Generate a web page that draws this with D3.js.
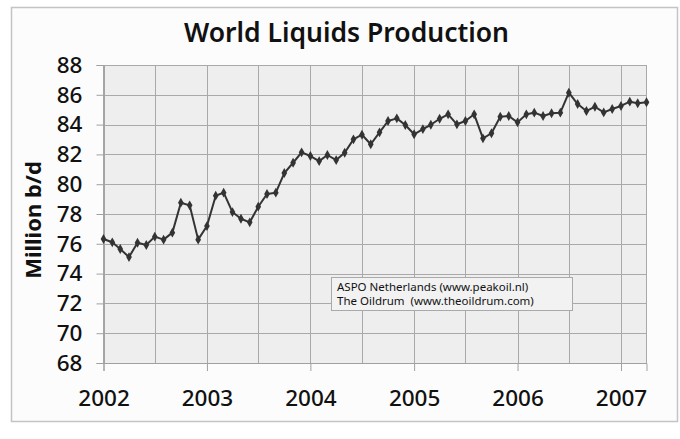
<!DOCTYPE html>
<html>
<head>
<meta charset="utf-8">
<script src="https://cdn.jsdelivr.net/npm/d3@7"></script>
<style>
  html, body { margin: 0; padding: 0; background: #ffffff; }
  svg { display: block; }
</style>
</head>
<body>
<svg id="chart" width="680" height="439"></svg>
<script>
// ---- data (million barrels per day, monthly) ----
const startDate = "2002-01-01";
const v2002 = [76.32, 76.10, 75.65, 75.11, 76.07, 75.92, 76.48, 76.28, 76.75, 78.76, 78.58, 76.28];
const v2003 = [77.19, 79.23, 79.43, 78.13, 77.68, 77.44, 78.49, 79.34, 79.43, 80.75, 81.44, 82.14];
const v2004 = [81.89, 81.55, 81.96, 81.62, 82.11, 83.01, 83.32, 82.68, 83.48, 84.24, 84.42, 83.97];
const v2005 = [83.35, 83.70, 83.99, 84.39, 84.69, 84.02, 84.24, 84.69, 83.08, 83.42, 84.53, 84.58];
const v2006 = [84.15, 84.69, 84.80, 84.58, 84.76, 84.80, 86.14, 85.38, 84.91, 85.20, 84.82, 85.05];
const v2007 = [85.25, 85.54, 85.43, 85.50];
const yearLabels = ["2002", "2003", "2004", "2005", "2006", "2007"];
const yTicks = [68, 70, 72, 74, 76, 78, 80, 82, 84, 86, 88];
const titleText = "World Liquids Production";
const yTitle = "Million b/d";
const sourceLines = ["ASPO Netherlands (www.peakoil.nl)", "The Oildrum  (www.theoildrum.com)"];

const values = [].concat(v2002, v2003, v2004, v2005, v2006, v2007);
const parse = d3.timeParse("%Y-%m-%d");
const t0 = parse(startDate);
const data = values.map((v, i) => ({ date: d3.timeMonth.offset(t0, i), value: v }));

// ---- layout ----
const plot = { left: 103.5, right: 646.5, top: 65, bottom: 363 };
const svg = d3.select("#chart");
const font = "'Noto Sans', 'Open Sans', sans-serif";

// outer frame
svg.append("rect")
  .attr("x", 11.5).attr("y", 7.5).attr("width", 666).attr("height", 414)
  .attr("fill", "#fcfcfc").attr("stroke", "#c4c4c4").attr("stroke-width", 1.5);

const x = d3.scaleTime()
  .domain([t0, data[data.length - 1].date])
  .range([plot.left, plot.right]);
const y = d3.scaleLinear()
  .domain([d3.min(yTicks), d3.max(yTicks)])
  .range([plot.bottom, plot.top]);

// plot background
svg.append("rect")
  .attr("x", plot.left).attr("y", plot.top)
  .attr("width", plot.right - plot.left).attr("height", plot.bottom - plot.top)
  .attr("fill", "#eeeeee");

// gridlines
const halfYears = d3.timeMonth.every(6).range(t0, d3.timeDay.offset(x.domain()[1], 1));
svg.append("g").selectAll("line").data(halfYears).join("line")
  .attr("x1", d => Math.round(x(d)) + 0.5).attr("x2", d => Math.round(x(d)) + 0.5)
  .attr("y1", plot.top).attr("y2", plot.bottom)
  .attr("stroke", "#a9a9a9").attr("stroke-width", 1);
svg.append("g").selectAll("line").data(yTicks).join("line")
  .attr("x1", plot.left).attr("x2", plot.right)
  .attr("y1", d => Math.round(y(d)) + 0.5).attr("y2", d => Math.round(y(d)) + 0.5)
  .attr("stroke", "#a9a9a9").attr("stroke-width", 1);

// plot border
svg.append("rect")
  .attr("x", plot.left).attr("y", plot.top + 0.5)
  .attr("width", plot.right - plot.left).attr("height", plot.bottom - plot.top)
  .attr("fill", "none").attr("stroke", "#a9a9a9").attr("stroke-width", 1);

// axes
const yearDates = yearLabels.map(s => parse(s + "-01-01"));
const xAxis = d3.axisBottom(x).tickValues(yearDates)
  .tickFormat((d, i) => yearLabels[i]).tickSize(8).tickPadding(19);
const gx = svg.append("g").attr("transform", `translate(0,${plot.bottom})`).call(xAxis);
gx.select(".domain").attr("stroke", "#a0a0a0");
gx.selectAll(".tick line").attr("stroke", "#a0a0a0");
gx.selectAll(".tick text").attr("font-family", font).attr("font-size", 22.5)
  .attr("font-weight", 500).attr("fill", "#111");

const yAxis = d3.axisLeft(y).tickValues(yTicks).tickSize(7).tickPadding(14);
const gy = svg.append("g").attr("transform", `translate(${plot.left},0)`).call(yAxis);
gy.select(".domain").attr("stroke", "#a0a0a0");
gy.selectAll(".tick line").attr("stroke", "#a0a0a0");
gy.selectAll(".tick text").attr("font-family", font).attr("font-size", 22.5)
  .attr("font-weight", 500).attr("fill", "#111");

// line
svg.append("path").datum(data)
  .attr("d", d3.line().x(d => x(d.date)).y(d => y(d.value)))
  .attr("fill", "none").attr("stroke", "#333333").attr("stroke-width", 2)
  .attr("stroke-linejoin", "round");

svg.append("g").selectAll("path").data(data).join("path")
  .attr("transform", d => `translate(${x(d.date)},${y(d.value)})`)
  .attr("d", d3.symbol(d3.symbolDiamond, 28))
  .attr("fill", "#333333");

// title
svg.append("text")
  .attr("x", 346.5).attr("y", 42)
  .attr("text-anchor", "middle")
  .attr("font-family", font).attr("font-weight", 600).attr("font-size", 26.5)
  .attr("fill", "#111").text(titleText);

// y title
svg.append("text")
  .attr("transform", `translate(41,${(plot.top + plot.bottom) / 2 + 6}) rotate(-90)`)
  .attr("text-anchor", "middle")
  .attr("font-family", font).attr("font-weight", "bold").attr("font-size", 22)
  .attr("fill", "#111").text(yTitle);

// source box
const box = svg.append("g");
box.append("rect")
  .attr("x", 331.5).attr("y", 277.5).attr("width", 241).attr("height", 33)
  .attr("fill", "#f2f2f2").attr("stroke", "#a9a9a9").attr("stroke-width", 1);
box.selectAll("text").data(sourceLines).join("text")
  .attr("x", 337).attr("y", (d, i) => 290.5 + i * 14)
  .attr("font-family", font).attr("font-size", 11.5)
  .attr("fill", "#111")
  .attr("xml:space", "preserve")
  .style("white-space", "pre")
  .text(d => d);
</script>
</body>
</html>
